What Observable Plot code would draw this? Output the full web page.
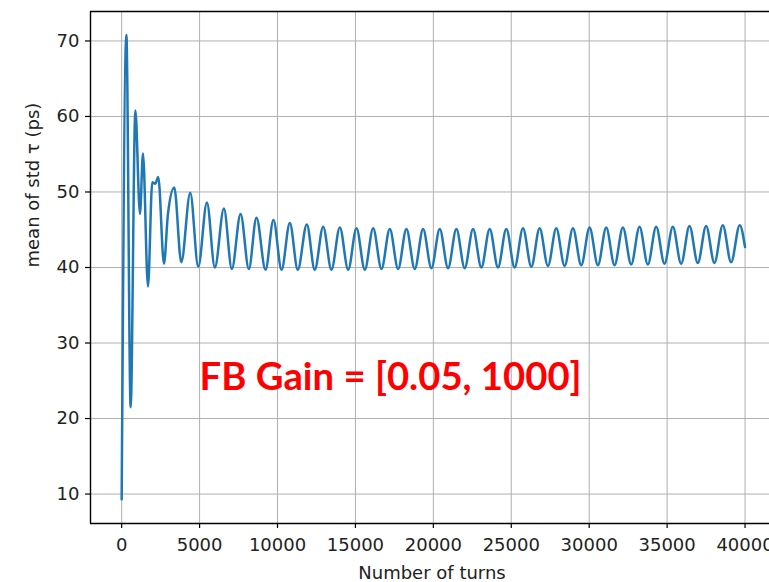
<!DOCTYPE html>
<html><head><meta charset="utf-8">
<script src="https://cdn.jsdelivr.net/npm/d3@7"></script>
<script src="https://cdn.jsdelivr.net/npm/@observablehq/plot@0.6"></script>
<style>body{margin:0;background:#fff;}</style>
</head><body><div id="chart"></div>
<script>
const turns = [
  0, 300, 577, 878, 1175, 1367, 1688, 1965, 2150, 2350, 2714, 2970, 3376, 3825, 4400, 4915,
  5470, 5980, 6560, 7070, 7630, 8160, 8650, 9230, 9740, 10260, 10790, 11300, 11880, 12390, 12930, 13460,
  14000, 14534, 15068, 15602, 16137, 16671, 17205, 17739, 18273, 18807, 19342, 19876, 20410, 20944,
  21478, 22012, 22547, 23081, 23615, 24149, 24683, 25217, 25752, 26286, 26820, 27354, 27888, 28422,
  28957, 29491, 30025, 30559, 31093, 31627, 32162, 32696, 33230, 33764, 34298, 34832, 35367, 35901,
  36435, 36969, 37503, 38037, 38572, 39106, 39660, 40000
];
const meanStdTau = [
  9.3, 70.8, 21.5, 60.8, 47.1, 55.1, 37.5, 51.3, 51.1, 52.0, 40.5, 47.1, 50.6, 40.7, 49.9, 40.1,
  48.6, 40.0, 47.8, 39.8, 47.1, 39.8, 46.6, 39.7, 46.3, 39.7, 45.9, 39.7, 45.7, 39.7, 45.4, 39.7,
  45.3, 39.7, 45.2, 39.7, 45.2, 39.8, 45.1, 39.8, 45.1, 39.8, 45.1, 39.9, 45.1, 39.9,
  45.1, 39.9, 45.1, 40.0, 45.1, 40.0, 45.1, 40.0, 45.2, 40.1, 45.2, 40.2, 45.2, 40.2,
  45.2, 40.3, 45.3, 40.3, 45.3, 40.3, 45.3, 40.4, 45.4, 40.4, 45.4, 40.5, 45.4, 40.5,
  45.5, 40.6, 45.5, 40.6, 45.6, 40.7, 45.6, 42.7
];
const xTicks = [0, 5000, 10000, 15000, 20000, 25000, 30000, 35000, 40000];
const yTicks = [10, 20, 30, 40, 50, 60, 70];
const xDomain = [-2000, 41570];
const yDomain = [6.1, 73.9];
const xLabel = "Number of turns";
const yLabel = "mean of std τ (ps)";
const annotation = "FB Gain = [0.05, 1000]";

const data = turns.map((t, i) => ({turn: t, tau: meanStdTau[i]}));

const chart = Plot.plot({
  width: 769, height: 582,
  marginLeft: 90, marginRight: 0, marginTop: 11, marginBottom: 59,
  style: {fontFamily: "DejaVu Sans", fontSize: "18px", color: "#222", background: "#fff", overflow: "visible"},
  x: {domain: xDomain},
  y: {domain: yDomain},
  marks: [
    Plot.gridX({ticks: xTicks, stroke: "#b0b0b0", strokeOpacity: 1, strokeWidth: 1}),
    Plot.gridY({ticks: yTicks, stroke: "#b0b0b0", strokeOpacity: 1, strokeWidth: 1}),
    Plot.line(data, {x: "turn", y: "tau", stroke: "#1f77b4", strokeWidth: 2.5, curve: "monotone-x"}),
    Plot.ruleX([xDomain[0]], {stroke: "#000", strokeWidth: 1.4}),
    Plot.ruleY(yDomain, {stroke: "#000", strokeWidth: 1.4}),
    Plot.axisX({ticks: xTicks, tickSize: 5, tickPadding: 10, tickFormat: d => String(d), label: null, stroke: "#000", strokeWidth: 1.2}),
    Plot.axisY({ticks: yTicks, tickSize: 5, tickPadding: 6, tickFormat: d => String(d), label: null, stroke: "#000", strokeWidth: 1.2}),
    Plot.text([xLabel], {frameAnchor: "bottom", dx: 2, dy: 50, fontSize: 18, lineAnchor: "middle", fill: "#222"}),
    Plot.text([yLabel], {frameAnchor: "left", dx: -57, rotate: -90, fontSize: 18, lineAnchor: "middle", fill: "#222"}),
    Plot.text([annotation], {x: 5000, y: 25.4, textAnchor: "start", lineAnchor: "middle", fill: "#ff0000",
      fontWeight: "bold", fontSize: 38, fontFamily: "Lato"})
  ]
});
document.getElementById("chart").appendChild(chart);
d3.select(chart).selectAll("text")
  .filter(function() { return this.textContent === annotation; })
  .attr("textLength", 382).attr("lengthAdjust", "spacingAndGlyphs");
</script>
</body></html>
